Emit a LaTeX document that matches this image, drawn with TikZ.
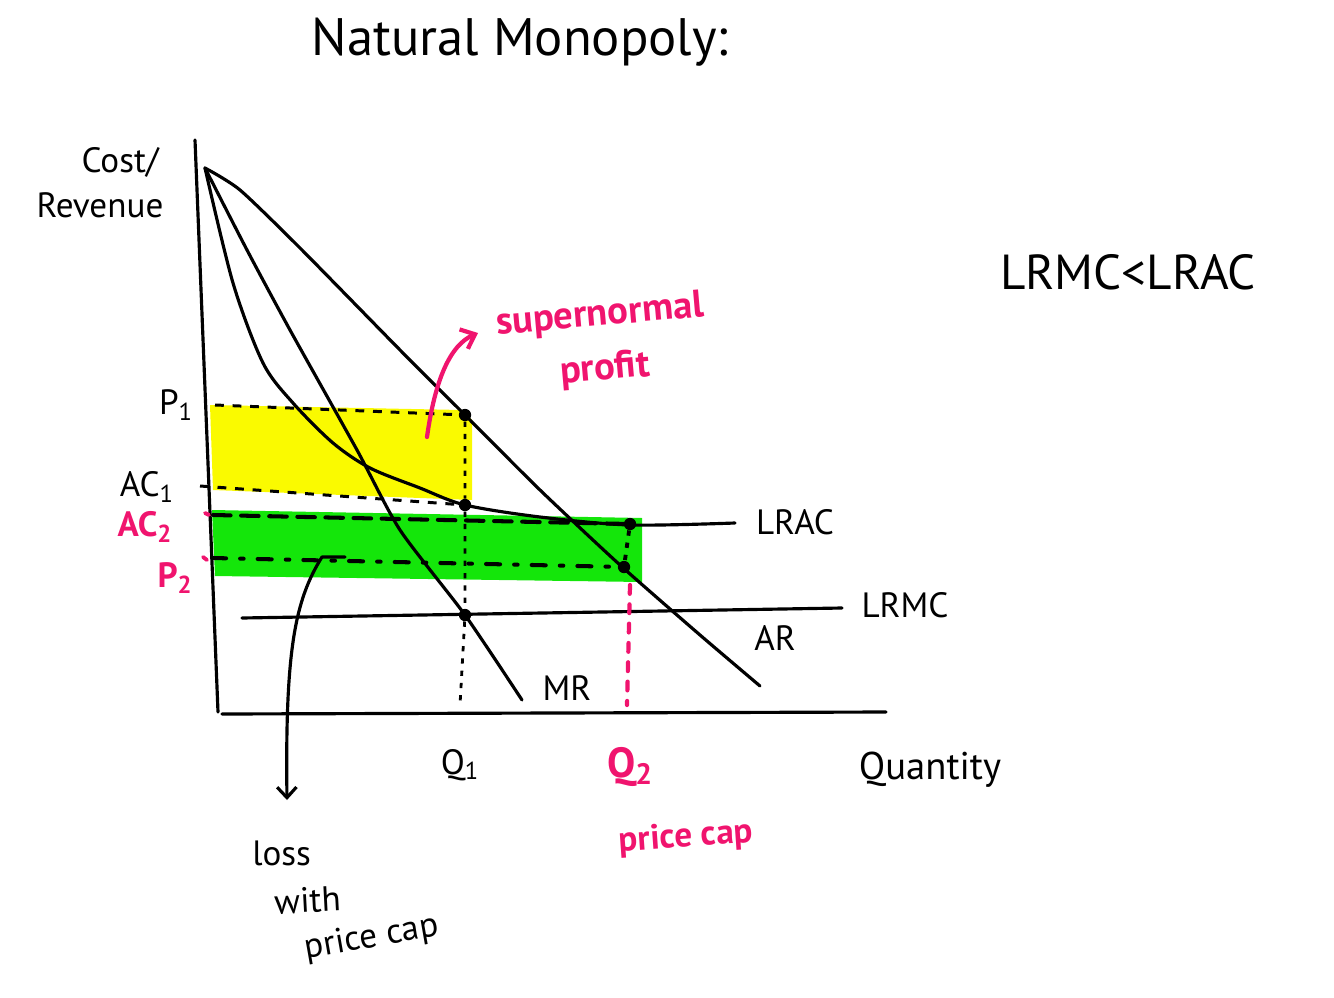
\documentclass[tikz,border=0pt]{standalone}
\usepackage{fontspec}
\setmainfont{PT Sans}
\usetikzlibrary{arrows.meta}
\definecolor{pinkc}{RGB}{240,20,110}
\definecolor{yel}{RGB}{250,250,0}
\definecolor{grn}{RGB}{20,230,10}
\tikzset{
  curve/.style={line width=1.8pt, line cap=round, line join=round},
  lbl/.style={font=\fontsize{20}{22}\selectfont, inner sep=0pt},
  plbl/.style={font=\fontsize{20}{22}\selectfont\bfseries, text=pinkc, inner sep=0pt},
  dot/.style={circle, fill=black, inner sep=0pt, minimum size=7pt},
  dashA/.style={line width=1.7pt, dash pattern=on 5pt off 5pt},
  dashB/.style={line width=2.3pt, dash pattern=on 10pt off 6pt, line cap=round},
  dashC/.style={line width=2.3pt, dash pattern=on 8pt off 8pt on 2pt off 8pt, line cap=round},
  dotV/.style={line width=1.6pt, dash pattern=on 3pt off 4pt},
  pdotV/.style={line width=2.4pt, pinkc, dash pattern=on 5pt off 6pt, line cap=round},
}
\begin{document}
\begin{tikzpicture}[x=0.02cm,y=-0.02cm]
\useasboundingbox (0,0) rectangle (1334,997);
% fills
\fill[yel] (210,405) -- (462,410) -- (472,420) -- (472,500) -- (213,490) -- cycle;
\fill[grn] (212,510) -- (642,518) -- (642,582) -- (215,576) -- cycle;

% axes
\coordinate (ytop) at (195,140);
\coordinate (ybot) at (218,712);
\coordinate (xl) at (222,714);
\coordinate (xr) at (886,712);
\draw[curve] (ytop) -- (ybot);
\draw[curve] (xl) -- (xr);

% key points
\coordinate (O) at (205,168);
\node[dot] (A) at (465,415) {};
\node[dot] (B) at (465,505) {};
\node[dot] (C) at (465,615) {};
\node[dot] (D) at (630,524) {};
\node[dot] (E) at (624,567) {};

% curves
\draw[curve] plot[smooth, tension=0.4] coordinates {(205,168) (240,190) (300,248) (400,350) (465,415) (540,490) (620,565) (700,635) (760,686)};
\draw[curve] plot[smooth, tension=0.4] coordinates {(205,168) (247,250) (290,330) (357,450) (400,530) (465,615) (522,700)};
\draw[curve] plot[smooth, tension=0.5] coordinates {(205,168) (233,283) (263,363) (293,403) (333,443) (370,468) (420,488) (465,505) (540,517) (630,525) (735,523)};
\coordinate (mcL) at (242,618);
\coordinate (mcR) at (842,608);
\draw[curve] (mcL) -- (mcR);

% dashed lines
\coordinate (p1L) at (215,405);
\draw[dashA] (p1L) -- (A);
\coordinate (ac1L) at (200,486);
\draw[dashA] (ac1L) -- (B);
\coordinate (q1b) at (460,705);
\draw[dotV] (A) -- (B) -- (C) -- (q1b);
\coordinate (ac2L) at (213,515);
\draw[dashB] (ac2L) -- (D);
\coordinate (p2L) at (212,558);
\draw[dashC] (p2L) -- (E);
\draw[dotV, line width=2.2pt] (D) -- (E);
\coordinate (q2t) at (630,585);
\coordinate (q2b) at (627,705);
\draw[pdotV] (q2t) -- (q2b);
% small pink ticks
\coordinate (t1a) at (205,513); \coordinate (t1b) at (209,515);
\draw[pinkc, line width=2.2pt, line cap=round] (t1a) -- (t1b);
\coordinate (t2a) at (203,557); \coordinate (t2b) at (207,560);
\draw[pinkc, line width=2.2pt, line cap=round] (t2a) -- (t2b);

% labels
\node[lbl, font=\fontsize{30}{32}\selectfont] (title) at (520,42) {Natural Monopoly:};
\node[lbl] (cost) at (120,162) {Cost/};
\node[lbl] (rev) at (100,205) {Revenue};
\node[lbl, font=\fontsize{28}{30}\selectfont] (ineq) at (1128,272) {LRMC<LRAC};
\node[lbl] (p1) at (176,405) {P\textsubscript{1}};
\node[lbl] (ac1) at (147,487) {AC\textsubscript{1}};
\node[plbl] (ac2) at (145,527) {AC\textsubscript{2}};
\node[plbl] (p2) at (175,578) {P\textsubscript{2}};
\node[lbl] (lrac) at (795,522) {LRAC};
\node[lbl] (lrmc) at (905,605) {LRMC};
\node[lbl] (ar) at (775,638) {AR};
\node[lbl] (mr) at (567,688) {MR};
\node[lbl] (q1) at (460,765) {Q\textsubscript{1}};
\node[plbl, font=\fontsize{24}{26}\selectfont\bfseries] (q2) at (630,767) {Q\textsubscript{2}};
\node[plbl, rotate=4] (pc) at (686,838) {price cap};
\node[lbl, font=\fontsize{22}{24}\selectfont] (qty) at (930,770) {Quantity};
\node[plbl, rotate=5, font=\fontsize{22}{24}\selectfont\bfseries] (sn1) at (600,316) {supernormal};
\node[plbl, rotate=5, font=\fontsize{22}{24}\selectfont\bfseries] (sn2) at (605,370) {profit};
\node[lbl, anchor=west] (l1) at (252,853) {loss};
\node[lbl, anchor=west, rotate=3] (l2) at (274,902) {with};
\node[lbl, anchor=west, rotate=10] (l3) at (305,950) {price cap};

% arrows
\coordinate (snS) at (427,437);
\coordinate (snE) at (478,333);
\draw[pinkc, line width=2.4pt, line cap=round, -{Straight Barb[length=7pt,width=12pt]}] (snS) .. controls (435,380) and (450,345) .. (snE);
\coordinate (lsA) at (345,557);
\coordinate (lsB) at (322,557);
\coordinate (lsE) at (287,800);
\draw[curve, -{Straight Barb[length=6pt,width=11pt]}] (lsA) -- (lsB) .. controls (295,600) and (285,650) .. (lsE);
\end{tikzpicture}
\end{document}
